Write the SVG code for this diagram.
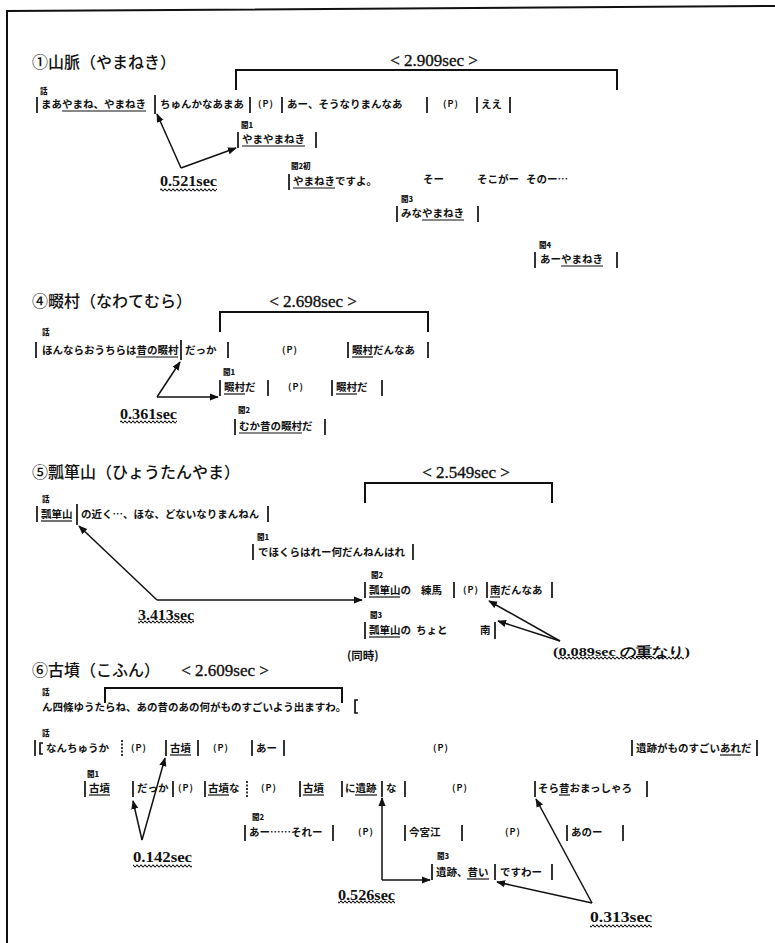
<svg xmlns="http://www.w3.org/2000/svg" width="775" height="943" viewBox="0 0 775 943">
<defs>
<style>
.t{font-family:"Noto Sans CJK JP","Noto Sans CJK SC",sans-serif;font-size:10.5px;font-weight:700;fill:#111}
.p{font-family:"Noto Sans CJK JP",sans-serif;font-size:9px;font-weight:700;fill:#111;letter-spacing:1px}
.lb{font-family:"Noto Sans CJK JP","Noto Sans CJK SC",sans-serif;font-size:7.5px;font-weight:900;fill:#111}
.ti{font-family:"Noto Sans CJK JP","Noto Sans CJK SC",sans-serif;font-size:16px;font-weight:500;fill:#111}
.sec{font-family:"Liberation Serif",serif;font-size:17px;fill:#111;stroke:#111;stroke-width:0.35;text-anchor:middle}
.tm{font-family:"Liberation Serif",serif;font-size:14px;font-weight:700;fill:#111}
.bar{stroke:#111;stroke-width:1.7;fill:none}
.ul{stroke:#111;stroke-width:1.2;fill:none}
.br{stroke:#111;stroke-width:2;fill:none}
.ar{stroke:#111;stroke-width:1.5;fill:none;marker-end:url(#ah)}
</style>
<marker id="ah" viewBox="0 0 10 10" refX="9" refY="5" markerWidth="6" markerHeight="6" orient="auto-start-reverse" markerUnits="strokeWidth">
<path d="M0,1 L10,5 L0,9 z" fill="#111"/>
</marker>
<pattern id="wave" x="0" y="0" width="4" height="4" patternUnits="userSpaceOnUse">
<path d="M0 2 Q1 0.3 2 2 T4 2" stroke="#111" stroke-width="1.1" fill="none"/>
</pattern>
</defs>
<rect width="775" height="943" fill="#fff"/>
<g id="frame">
<path class="br" d="M7 943V11L775 6"/>
</g>

<g id="sec1">
<text class="ti" x="32" y="68">①山脈（やまねき）</text>
<text class="sec" x="434" y="66">&lt; 2.909sec &gt;</text>
<path class="br" d="M236 90V70H617V90"/>
<g id="s1-hanashi">
<text class="lb" x="40" y="94">話</text>
<path class="bar" d="M37 97v16M155 95v19M250 97v16M282 97v16M427 97v16M477 97v16M510 97v16"/>
<text class="t" x="41" y="108">まあやまね、やまねき</text>
<text class="t" x="160" y="108">ちゅんかなあまあ</text>
<text class="p" x="258" y="107">(P)</text>
<text class="t" x="287" y="108">あー、そうなりまんなあ</text>
<text class="p" x="443" y="107">(P)</text>
<text class="t" x="481" y="108">ええ</text>
<path class="ul" d="M62 111H146"/>
</g>
<g id="s1-kiku1">
<text class="lb" x="241" y="128">聞1</text>
<path class="bar" d="M238 132v16M316 132v16"/>
<text class="t" x="242" y="143">やまやまねき</text>
<path class="ul" d="M242 146H305"/>
</g>
<g id="s1-kiku2">
<text class="lb" x="291" y="169">聞2初</text>
<path class="bar" d="M289 174v16"/>
<text class="t" x="293" y="185">やまねきですよ。</text>
<path class="ul" d="M293 188H335"/>
<text class="t" x="423" y="183">そー</text>
<text class="t" x="477" y="183">そこがー</text>
<text class="t" x="526" y="183">そのー…</text>
</g>
<g id="s1-kiku3">
<text class="lb" x="401" y="202">聞3</text>
<path class="bar" d="M397 206v16M478 206v16"/>
<text class="t" x="401" y="217">みなやまねき</text>
<path class="ul" d="M422 220H464"/>
</g>
<g id="s1-kiku4">
<text class="lb" x="539" y="248">聞4</text>
<path class="bar" d="M535 252v16M617 252v16"/>
<text class="t" x="540" y="263">あーやまねき</text>
<path class="ul" d="M561 266H603"/>
</g>
<g id="s1-time">
<text class="tm" x="160" y="186" textLength="57" lengthAdjust="spacingAndGlyphs">0.521sec</text>
<rect x="160" y="188" width="57" height="4" fill="url(#wave)"/>
</g>
</g>

<g id="sec4">
<text class="ti" x="32" y="307">④畷村（なわてむら）</text>
<text class="sec" x="313" y="307">&lt; 2.698sec &gt;</text>
<path class="br" d="M220 332V312H428V332"/>
<g id="s4-hanashi">
<text class="lb" x="42" y="335">話</text>
<path class="bar" d="M36 342v16M181 340v20M228 342v16M348 342v16M428 342v16"/>
<text class="t" x="42" y="354">ほんならおうちらは昔の畷村</text>
<path class="ul" d="M136 357H178"/>
<text class="t" x="185" y="354">だっか</text>
<text class="p" x="282" y="353">(P)</text>
<text class="t" x="352" y="354">畷村だんなあ</text>
<path class="ul" d="M352 357H373"/>
</g>
<g id="s4-kiku1">
<text class="lb" x="223" y="375">聞1</text>
<path class="bar" d="M220 380v16M268 380v16M332 380v16M382 380v16"/>
<text class="t" x="224" y="391">畷村だ</text>
<path class="ul" d="M224 394H245"/>
<text class="p" x="288" y="390">(P)</text>
<text class="t" x="336" y="391">畷村だ</text>
<path class="ul" d="M336 394H357"/>
</g>
<g id="s4-kiku2">
<text class="lb" x="238" y="413">聞2</text>
<path class="bar" d="M235 419v16M325 419v16"/>
<text class="t" x="239" y="430">むか昔の畷村だ</text>
<path class="ul" d="M239 433H302"/>
</g>
<g id="s4-time">
<text class="tm" x="120" y="419" textLength="57" lengthAdjust="spacingAndGlyphs">0.361sec</text>
<rect x="120" y="420" width="57" height="4" fill="url(#wave)"/>
</g>
</g>

<g id="sec5">
<text class="ti" x="32" y="478">⑤瓢箪山（ひょうたんやま）</text>
<text class="sec" x="466" y="478">&lt; 2.549sec &gt;</text>
<path class="br" d="M365 503V483H552V503"/>
<g id="s5-hanashi">
<text class="lb" x="42" y="502">話</text>
<path class="bar" d="M37 506v16M77 504v21M268 506v16"/>
<text class="t" x="41" y="518">瓢箪山</text>
<path class="ul" d="M41 521H72"/>
<text class="t" x="81" y="518">の近く…、ほな、どないなりまんねん</text>
</g>
<g id="s5-kiku1">
<text class="lb" x="257" y="540">聞1</text>
<path class="bar" d="M253 544v16M413 544v16"/>
<text class="t" x="258" y="556">でほくらはれー何だんねんはれ</text>
</g>
<g id="s5-kiku2">
<text class="lb" x="371" y="578">聞2</text>
<path class="bar" d="M365 582v16M454 582v16M487 582v16M552 582v16"/>
<text class="t" x="369" y="594">瓢箪山の</text>
<path class="ul" d="M369 597H400"/>
<text class="t" x="421" y="594">練馬</text>
<text class="p" x="463" y="593">(P)</text>
<text class="t" x="490" y="594">南だんなあ</text>
<path class="ul" d="M490 597H500"/>
</g>
<g id="s5-kiku3">
<text class="lb" x="370" y="618">聞3</text>
<path class="bar" d="M365 622v17M495 622v17"/>
<text class="t" x="369" y="634">瓢箪山の</text>
<path class="ul" d="M369 637H400"/>
<text class="t" x="416" y="634">ちょと</text>
<text class="t" x="480" y="634">南</text>
</g>
<g id="s5-time">
<text class="tm" x="138" y="620" textLength="56" lengthAdjust="spacingAndGlyphs">3.413sec</text>
<rect x="138" y="620" width="56" height="4" fill="url(#wave)"/>
<text class="t" x="347" y="660" style="font-size:11.5px">(同時)</text>
<text class="tm" x="553" y="656" style="font-size:13px" textLength="137" lengthAdjust="spacingAndGlyphs">(0.089sec の重なり)</text>
<rect x="558" y="656" width="126" height="4" fill="url(#wave)"/>
</g>
</g>

<g id="sec6">
<text class="ti" x="32" y="676">⑥古墳（こふん）</text>
<text class="sec" x="225" y="676">&lt; 2.609sec &gt;</text>
<path class="br" d="M105 703V688H342V703"/>
<g id="s6-hanashi1">
<text class="lb" x="42" y="695">話</text>
<text class="t" x="42" y="711">ん四條ゆうたらね、あの昔のあの何がものすごいよう出ますわ。</text>
<path class="bar" d="M358 700h-3v13h3"/>
</g>
<g id="s6-hanashi2">
<text class="lb" x="42" y="736">話</text>
<path class="bar" d="M35 740v16M43 743h-3v11h3M166 740v16M198 740v16M252 740v16M284 740v16M632 740v16M757 740v16"/>
<path class="bar" d="M122 740v16" stroke-dasharray="2 1.5"/>
<text class="t" x="46" y="752">なんちゅうか</text>
<text class="p" x="131" y="751">(P)</text>
<text class="t" x="170" y="752">古墳</text>
<path class="ul" d="M170 755H191"/>
<text class="p" x="213" y="751">(P)</text>
<text class="t" x="256" y="752">あー</text>
<text class="p" x="433" y="751">(P)</text>
<text class="t" x="636" y="752">遺跡がものすごいあれだ</text>
<path class="ul" d="M720 755H741"/>
</g>
<g id="s6-kiku1">
<text class="lb" x="87" y="777">聞1</text>
<path class="bar" d="M85 781v16M133 781v16M173 781v16M205 781v16M300 781v16M342 781v16M382 781v16M405 781v16M535 781v16M647 781v16"/>
<path class="bar" d="M247 781v16" stroke-dasharray="2 1.5"/>
<text class="t" x="89" y="792">古墳</text>
<path class="ul" d="M89 795H110"/>
<text class="t" x="137" y="792">だっか</text>
<text class="p" x="178" y="791">(P)</text>
<text class="t" x="208" y="792">古墳な</text>
<path class="ul" d="M208 795H229"/>
<text class="p" x="261" y="791">(P)</text>
<text class="t" x="303" y="792">古墳</text>
<path class="ul" d="M303 795H324"/>
<text class="t" x="345" y="792">に遺跡</text>
<path class="ul" d="M355 795H377"/>
<text class="t" x="386" y="792">な</text>
<text class="p" x="452" y="791">(P)</text>
<text class="t" x="538" y="792">そら昔おまっしゃろ</text>
<path class="ul" d="M559 795H570"/>
</g>
<g id="s6-kiku2">
<text class="lb" x="252" y="820">聞2</text>
<path class="bar" d="M245 825v16M333 825v16M405 825v16M462 825v16M567 825v16M623 825v16"/>
<text class="t" x="249" y="836">あー……それー</text>
<text class="p" x="358" y="835">(P)</text>
<text class="t" x="409" y="836">今宮江</text>
<text class="p" x="505" y="835">(P)</text>
<text class="t" x="571" y="836">あのー</text>
</g>
<g id="s6-kiku3">
<text class="lb" x="437" y="859">聞3</text>
<path class="bar" d="M432 864v16M495 864v16M552 864v16"/>
<text class="t" x="436" y="876">遺跡、昔い</text>
<path class="ul" d="M467 879H489"/>
<text class="t" x="500" y="876">ですわー</text>
</g>
<g id="s6-time">
<text class="tm" x="133" y="862" textLength="59" lengthAdjust="spacingAndGlyphs">0.142sec</text>
<rect x="133" y="864" width="59" height="4" fill="url(#wave)"/>
<text class="tm" x="338" y="900" textLength="57" lengthAdjust="spacingAndGlyphs">0.526sec</text>
<rect x="338" y="900" width="57" height="4" fill="url(#wave)"/>
<text class="tm" x="590" y="922" textLength="62" lengthAdjust="spacingAndGlyphs">0.313sec</text>
<rect x="590" y="924" width="62" height="4" fill="url(#wave)"/>
</g>
</g>

<g id="connectors">
<path class="ar" d="M181 168L157 114"/>
<path class="ar" d="M181 168L236 148"/>
<path class="ar" d="M157 397L180 362"/>
<path class="ar" d="M157 397H218"/>
<path class="ar" d="M157 600L79 526"/>
<path class="ar" d="M157 600H362"/>
<path class="ar" d="M560 641L489 601"/>
<path class="ar" d="M560 641L498 621"/>
<path class="ar" d="M142 840L133 801"/>
<path class="ar" d="M142 840L165 758"/>
<path class="ar" d="M382 880V798"/>
<path class="ar" d="M382 880H430"/>
<path class="ar" d="M592 903L497 882"/>
<path class="ar" d="M592 903L536 799"/>
</g>
</svg>
